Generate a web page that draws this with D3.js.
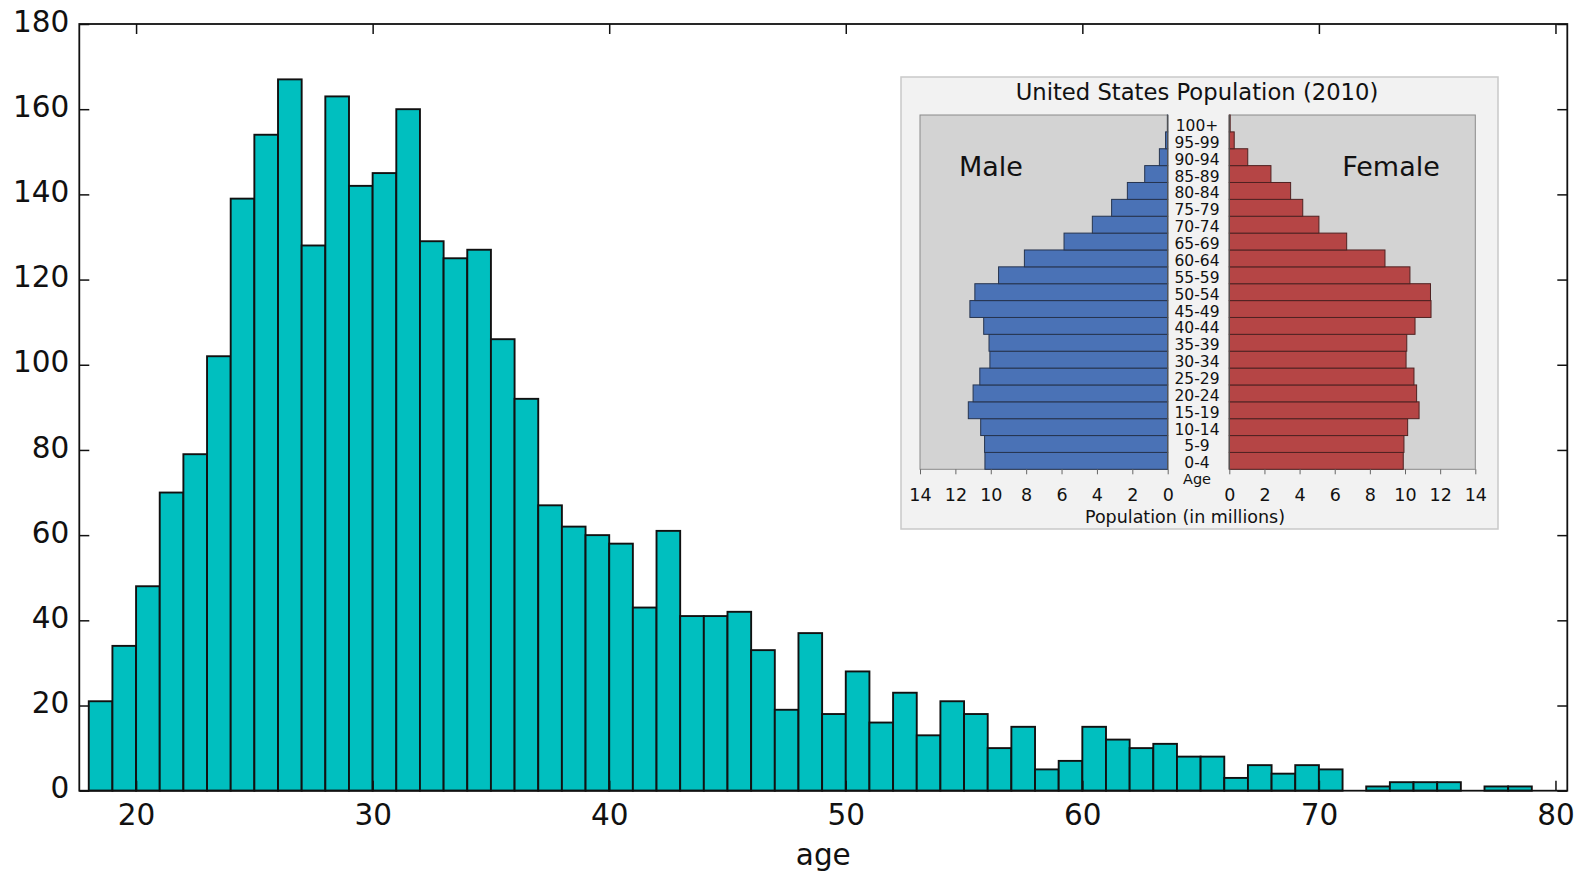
<!DOCTYPE html>
<html><head><meta charset="utf-8">
<script src="https://cdn.jsdelivr.net/npm/d3@7"></script>
<style>
body{margin:0;background:#fff}
svg{display:block}
text{font-family:"DejaVu Sans",sans-serif;fill:#111}
</style>
</head><body>
<svg id="c" width="1586" height="876"></svg>
<script>
// ---- main histogram data ----
const binStarts = [18,19,20,21,22,23,24,25,26,27,28,29,30,31,32,33,34,35,36,37,38,39,40,41,42,43,44,45,46,47,48,49,50,51,52,53,54,55,56,57,58,59,60,61,62,63,64,65,66,67,68,69,70,71,72,73,74,75,76,77,78];
const counts = [21,34,48,70,79,102,139,154,167,128,163,142,145,160,129,125,127,106,92,67,62,60,58,43,61,41,41,42,33,19,37,18,28,16,23,13,21,18,10,15,5,7,15,12,10,11,8,8,3,6,4,6,5,0,1,2,2,2,0,1,1];
const xTicks = [20,30,40,50,60,70,80];
const yTicks = [0,20,40,60,80,100,120,140,160,180];
const xLabel = "age";

// ---- inset population pyramid data ----
const insetTitle = "United States Population (2010)";
const ageGroups = ["0-4","5-9","10-14","15-19","20-24","25-29","30-34","35-39","40-44","45-49","50-54","55-59","60-64","65-69","70-74","75-79","80-84","85-89","90-94","95-99","100+"];
const male =   [10.33,10.35,10.57,11.27,11.0,10.62,10.05,10.1,10.4,11.18,10.9,9.56,8.1,5.86,4.26,3.17,2.28,1.3,0.47,0.12,0.02];
const female = [9.9,9.94,10.15,10.8,10.66,10.51,10.06,10.1,10.57,11.48,11.45,10.28,8.86,6.68,5.1,4.18,3.49,2.37,1.05,0.28,0.05];
const popTicks = [0,2,4,6,8,10,12,14];

const svg = d3.select("#c");

// ================= main chart =================
const L = 79.3, R = 1567.3, T = 24, B = 790.7;
const x = d3.scaleLinear().domain([17.6, 80.5]).range([L, R]);
const y = d3.scaleLinear().domain([0, 180]).range([B, T]);

const g = svg.append("g");
g.selectAll("rect.bar").data(binStarts.map((s,i)=>({s, c:counts[i]})).filter(d=>d.c>0))
  .enter().append("rect").attr("class","bar")
  .attr("x", d=>x(d.s)).attr("width", d=>x(d.s+1)-x(d.s))
  .attr("y", d=>y(d.c)).attr("height", d=>y(0)-y(d.c))
  .attr("fill","#00bfbf").attr("stroke","#111").attr("stroke-width",1.9);

// axes (inward ticks, all four sides)
const fs = 29.5;
const axB = d3.axisBottom(x).tickValues(xTicks).tickSizeInner(-10).tickSizeOuter(0).tickPadding(13).tickFormat(d3.format("d"));
const axT = d3.axisTop(x).tickValues(xTicks).tickSizeInner(-10).tickSizeOuter(0).tickFormat("");
const axL = d3.axisLeft(y).tickValues(yTicks).tickSizeInner(-10).tickSizeOuter(0).tickPadding(10).tickFormat(d3.format("d"));
const axR = d3.axisRight(y).tickValues(yTicks).tickSizeInner(-10).tickSizeOuter(0).tickFormat("");

function styleAxis(sel){
  sel.select(".domain").remove();
  sel.selectAll(".tick line").attr("stroke","#111").attr("stroke-width",1.5);
  sel.selectAll(".tick text").attr("font-size",fs).attr("font-family","DejaVu Sans").attr("fill","#111");
}
g.append("g").attr("transform",`translate(0,${B})`).call(axB).call(styleAxis);
g.append("g").attr("transform",`translate(0,${T})`).call(axT).call(styleAxis);
g.append("g").attr("transform",`translate(${L},0)`).call(axL).call(styleAxis)
  .selectAll(".tick text").attr("dy","0.24em");
g.append("g").attr("transform",`translate(${R},0)`).call(axR).call(styleAxis);

g.append("rect").attr("x",L).attr("y",T).attr("width",R-L).attr("height",B-T)
  .attr("fill","none").attr("stroke","#111").attr("stroke-width",1.8);

g.append("text").attr("x",(L+R)/2).attr("y",855).attr("text-anchor","middle")
  .attr("dominant-baseline","central").attr("font-size",29.5).text(xLabel);

// ================= inset =================
const ig = svg.append("g");
ig.append("rect").attr("x",901).attr("y",77).attr("width",597).attr("height",452)
  .attr("fill","#f2f2f2").attr("stroke","#c9c9c9").attr("stroke-width",1.5);

const IT = 115, IB = 469.3;
const xM = d3.scaleLinear().domain([14,0]).range([920,1167.7]);
const xF = d3.scaleLinear().domain([0,14]).range([1229.3,1475.3]);
const yA = d3.scaleBand().domain(ageGroups.slice().reverse()).range([IT, IB]).padding(0);

// panel backgrounds
[[xM,920,1167.7],[xF,1229.3,1475.3]].forEach(([s,a,b])=>{
  ig.append("rect").attr("x",a).attr("y",IT).attr("width",b-a).attr("height",IB-IT)
    .attr("fill","#d3d3d3").attr("stroke","#8a8a8a").attr("stroke-width",1);
});

ig.selectAll("rect.m").data(ageGroups.map((a,i)=>({a,v:male[i]}))).enter().append("rect")
  .attr("x",d=>xM(d.v)).attr("width",d=>xM(0)-xM(d.v))
  .attr("y",d=>yA(d.a)).attr("height",yA.bandwidth())
  .attr("fill","#4a72b6").attr("stroke","#26344f").attr("stroke-width",1);
ig.selectAll("rect.f").data(ageGroups.map((a,i)=>({a,v:female[i]}))).enter().append("rect")
  .attr("x",xF(0)).attr("width",d=>xF(d.v)-xF(0))
  .attr("y",d=>yA(d.a)).attr("height",yA.bandwidth())
  .attr("fill","#b54545").attr("stroke","#4f2222").attr("stroke-width",1);

// zero lines
ig.append("line").attr("x1",xM(0)).attr("x2",xM(0)).attr("y1",IT).attr("y2",IB).attr("stroke","#555").attr("stroke-width",1.2);
ig.append("line").attr("x1",xF(0)).attr("x2",xF(0)).attr("y1",IT).attr("y2",IB).attr("stroke","#555").attr("stroke-width",1.2);

function styleInset(sel){
  sel.select(".domain").remove();
  sel.selectAll(".tick line").attr("stroke","#666").attr("stroke-width",1);
  sel.selectAll(".tick text").attr("font-size",17.5).attr("font-family","DejaVu Sans").attr("fill","#222");
}
ig.append("g").attr("transform",`translate(0,${IB})`)
  .call(d3.axisBottom(xM).tickValues(popTicks).tickSizeInner(5).tickSizeOuter(0).tickPadding(14).tickFormat(d3.format("d"))).call(styleInset);
ig.append("g").attr("transform",`translate(0,${IB})`)
  .call(d3.axisBottom(xF).tickValues(popTicks).tickSizeInner(5).tickSizeOuter(0).tickPadding(14).tickFormat(d3.format("d"))).call(styleInset);

// age labels
ig.selectAll("text.age").data(ageGroups).enter().append("text")
  .attr("x",1197).attr("y",d=>yA(d)+yA.bandwidth()/2+2.5).attr("text-anchor","middle")
  .attr("dominant-baseline","central").attr("font-size",15.5).attr("fill","#222").text(d=>d);
ig.append("text").attr("x",1197).attr("y",479).attr("text-anchor","middle")
  .attr("dominant-baseline","central").attr("font-size",14.5).attr("fill","#333").text("Age");

ig.append("text").attr("x",1197).attr("y",92).attr("text-anchor","middle")
  .attr("dominant-baseline","central").attr("font-size",22.7).attr("fill","#222").text(insetTitle);
ig.append("text").attr("x",1185).attr("y",517).attr("text-anchor","middle")
  .attr("dominant-baseline","central").attr("font-size",17.5).attr("fill","#222").text("Population (in millions)");
ig.append("text").attr("x",991).attr("y",166).attr("text-anchor","middle")
  .attr("dominant-baseline","central").attr("font-size",27).attr("fill","#222").text("Male");
ig.append("text").attr("x",1391).attr("y",166).attr("text-anchor","middle")
  .attr("dominant-baseline","central").attr("font-size",27).attr("fill","#222").text("Female");
</script>
</body></html>
